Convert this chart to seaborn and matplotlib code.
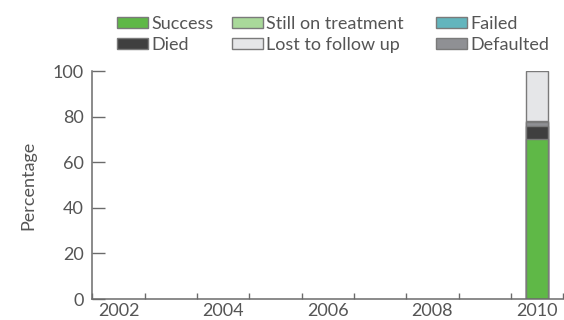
import pandas as pd
import matplotlib
matplotlib.use("Agg")
import matplotlib.pyplot as plt
import seaborn as sns
from matplotlib.patches import Patch

years = ["2002", "2003", "2004", "2005", "2006", "2007", "2008", "2009", "2010"]
bar_year = "2010"

# outcome shares for the 2010 cohort, bottom to top
outcomes = ["Success", "Died", "Failed", "Defaulted", "Still on treatment", "Lost to follow up"]
values = [70.0, 6.0, 0.0, 1.5, 0.5, 22.0]
colors = {
    "Success": "#5fb847",
    "Still on treatment": "#a9d99a",
    "Failed": "#63b5bd",
    "Died": "#3f3f3f",
    "Lost to follow up": "#e5e6e8",
    "Defaulted": "#8f9094",
}
legend_cols = [["Success", "Died"], ["Still on treatment", "Lost to follow up"], ["Failed", "Defaulted"]]
tick_years = ["2002", "2004", "2006", "2008", "2010"]

text_col = "#555555"
axis_col = "#6b6b6b"

sns.set_style("white")
plt.rcParams["font.family"] = ["Lato", "DejaVu Sans"]

df = pd.DataFrame({"outcome": outcomes, "value": values})
df["year"] = bar_year
df["top"] = df["value"].cumsum()

fig = plt.figure(figsize=(5.64, 3.2), dpi=100)
ax = fig.add_axes([0.1637, 0.0656, 0.835, 0.7125])

# stacked bar: draw cumulative tops from the highest down so lower segments sit on top
for _, row in df.iloc[::-1].iterrows():
    if row["value"] <= 0:
        continue
    sns.barplot(x=[row["year"]], y=[row["top"]], order=years, ax=ax,
                color=colors[row["outcome"]], width=0.42, saturation=1,
                edgecolor="#7a7a7a", linewidth=1.0)

ax.set_xlim(-0.5, 8.5)
ax.set_ylim(0, 100)
ax.set_xticks([years.index(y) for y in tick_years])
ax.set_xticklabels(tick_years)
ax.set_xticks([i + 0.5 for i in range(-1, 9)], minor=True)
ax.tick_params(axis="x", which="major", bottom=True, length=0, pad=3, labelsize=13, labelcolor=text_col)
ax.tick_params(axis="x", which="minor", bottom=True, direction="in", length=4, width=1, color=axis_col)
ax.set_yticks([0, 20, 40, 60, 80, 100])
ax.tick_params(axis="y", left=True, direction="in", length=9, width=1, color=axis_col,
               pad=6, labelsize=13, labelcolor=text_col)
ax.set_xlabel("")
ax.set_ylabel("Percentage", fontsize=13, color=text_col, labelpad=12)

sns.despine(ax=ax)
for s in ["left", "bottom"]:
    ax.spines[s].set_color(axis_col)
    ax.spines[s].set_linewidth(1.1)

# one small legend per column, placed like the original
col_x = [117, 232, 436]
for x0, names in zip(col_x, legend_cols):
    handles = [Patch(facecolor=colors[o], edgecolor="#7a7a7a", linewidth=1.0, label=o) for o in names]
    leg = fig.legend(handles=handles, loc="upper left", bbox_to_anchor=(x0 / 564, 1 - 16 / 320),
                     frameon=False, fontsize=13, handlelength=1.7, handleheight=0.55,
                     handletextpad=0.2, labelspacing=0.28, borderpad=0, borderaxespad=0)
    for t in leg.get_texts():
        t.set_color(text_col)

fig.savefig("out.png", dpi=100)
